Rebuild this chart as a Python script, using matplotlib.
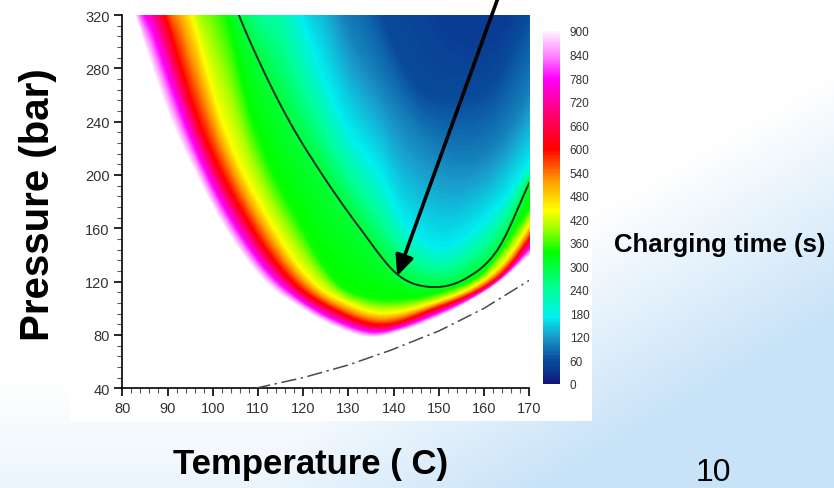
import numpy as np
import matplotlib
matplotlib.use("Agg")
import matplotlib.pyplot as plt
from matplotlib.colors import LinearSegmentedColormap, Normalize, to_rgb
from matplotlib.patches import Rectangle
import matplotlib.colorbar as mcolorbar

plt.rcParams["font.family"] = ["Liberation Sans", "DejaVu Sans"]

W, H = 834, 489

# ── contour curves (temperature C -> pressure bar) ───────────────────────────
# charging-time level carried by each curve, lowest pressure curve first
levels = [900, 600, 443, 341, 300, 169, 100, 60, 40]

edge900_T = [80.5, 82.8, 90.9, 96.4, 102.7, 111.5, 120, 127, 135, 141, 148, 156.5, 163.5, 170]
edge900_P = [345, 320, 240, 200, 160, 120, 99, 86, 78, 82, 90.5, 104.5, 120, 139.5]

red600_T = [86.5, 89.4, 96.8, 108.6, 117.4, 126, 137, 148, 162, 166, 170]
red600_P = [350, 320, 240, 160, 120, 100, 87, 98, 120, 133, 152]

yel443_T = [92.5, 95.3, 102, 113.4, 121.9, 130, 137, 148, 160, 165, 170]
yel443_P = [350, 320, 240, 160, 120, 103, 96, 103, 121, 137, 162]

grn341_T = [99.5, 102.7, 108.6, 119.6, 127, 135, 141, 148, 157, 160, 170]
grn341_P = [350, 320, 240, 160, 120, 107, 106, 109.5, 120, 127, 174.5]

blk300_T = [102.5, 105.8, 111, 117, 124.3, 132.6, 141, 148, 155.8, 163.1, 170]
blk300_P = [350, 320, 280, 240, 200, 160, 125, 116, 122, 144.5, 194.5]

cyn169_T = [115, 119.6, 129.2, 137.3, 142.5, 150.6, 158, 165, 170]
cyn169_P = [370, 320, 240, 200, 165, 146, 160, 185, 209.5]

blu100_T = [124, 129, 136, 143, 150, 156, 162, 168, 172]
blu100_P = [380, 320, 275, 240, 218, 212, 222, 250, 280]

blu60_T = [132, 137.3, 144.7, 150, 156, 162, 167, 172]
blu60_P = [380, 320, 268, 258, 258, 268, 300, 340]

nvy40_T = [142, 150, 157, 163, 168, 172]
nvy40_P = [400, 320, 300, 305, 340, 400]

curves = [(edge900_T, edge900_P), (red600_T, red600_P), (yel443_T, yel443_P),
          (grn341_T, grn341_P), (blk300_T, blk300_P), (cyn169_T, cyn169_P),
          (blu100_T, blu100_P), (blu60_T, blu60_P), (nvy40_T, nvy40_P)]

# dash-dot boundary line
bound_T = [109.4, 120, 130, 139.3, 150, 160, 170]
bound_P = [40, 48, 57.5, 68.5, 83, 100, 121]

colorbar_ticks = list(range(0, 901, 60))


def hermite(xs, ys, xq):
    """Smooth cubic curve through the read points."""
    xs = np.asarray(xs, float)
    ys = np.asarray(ys, float)
    d = np.diff(ys) / np.diff(xs)
    m = np.empty_like(ys)
    m[1:-1] = (d[:-1] + d[1:]) / 2
    m[0], m[-1] = d[0], d[-1]
    xq = np.clip(xq, xs[0], xs[-1])
    i = np.clip(np.searchsorted(xs, xq) - 1, 0, len(xs) - 2)
    h = xs[i + 1] - xs[i]
    t = (xq - xs[i]) / h
    h00 = 2 * t**3 - 3 * t**2 + 1
    h10 = t**3 - 2 * t**2 + t
    h01 = -2 * t**3 + 3 * t**2
    h11 = t**3 - t**2
    return h00 * ys[i] + h10 * h * m[i] + h01 * ys[i + 1] + h11 * h * m[i + 1]


# ── build the field between the read contour curves ─────────────────────────
T = np.linspace(80, 170, 451)
P = np.linspace(40, 320, 561)
curve_P = np.array([hermite(cT, cP, T) for cT, cP in curves])
field = np.empty((len(P), len(T)))
for j in range(len(T)):
    xp = np.maximum.accumulate(curve_P[:, j] + 1e-3 * np.arange(len(levels)))
    field[:, j] = np.interp(P, xp, levels, left=960, right=levels[-1])

cmap = LinearSegmentedColormap.from_list("tecplot", [
    (0 / 900, "#14147a"),
    (40 / 900, "#093e94"),
    (60 / 900, "#0a4c9c"),
    (120 / 900, "#1a9ccc"),
    (170 / 900, "#00f0f0"),
    (240 / 900, "#00ff9a"),
    (335 / 900, "#00ff00"),
    (400 / 900, "#a8ff00"),
    (443 / 900, "#ffff00"),
    (520 / 900, "#ff9900"),
    (600 / 900, "#ff0000"),
    (690 / 900, "#ff0070"),
    (780 / 900, "#ff00ff"),
    (840 / 900, "#ff88ff"),
    (900 / 900, "#fff2ff"),
])
cmap.set_over("white")
norm = Normalize(0, 900)

fig = plt.figure(figsize=(W / 100, H / 100), dpi=100)

# ── slide background ──────────────────────────────────────────────────────────
bg = fig.add_axes([0, 0, 1, 1])
xx, yy = np.meshgrid(np.linspace(0, 1, 300), np.linspace(0, 1, 200))
f = np.clip(np.maximum(2.0 * yy + 2.0 * xx - 2.3, 1.6 * yy - 1.25), 0, 1)
c0, c1 = np.array(to_rgb("#ffffff")), np.array(to_rgb("#c8e3f8"))
rgb = c0[None, None, :] * (1 - f[..., None]) + c1[None, None, :] * f[..., None]
bg.imshow(rgb, extent=[0, 1, 0, 1], aspect="auto", origin="upper")
bg.set_xlim(0, 1)
bg.set_ylim(0, 1)
bg.axis("off")
bg.add_patch(Rectangle((70 / W, 1 - 422 / H), (592 - 70) / W, 422 / H,
                       facecolor="white", edgecolor="none"))

# ── main plot ─────────────────────────────────────────────────────────────────
ax = fig.add_axes([122.3 / W, 1 - 389.3 / H, 407 / W, 373.3 / H])
ax.set_facecolor("white")
ax.imshow(field, extent=[80, 170, 40, 320], origin="lower", aspect="auto",
          cmap=cmap, norm=norm, interpolation="bilinear", zorder=1)
ax.contour(T, P, field, levels=[300], colors="#1e2e1e",
           linewidths=1.4, zorder=3)
ax.plot(bound_T, bound_P, color="#4a4a4a", lw=1.1,
        dashes=(10, 3, 1.5, 3), zorder=3)

ax.annotate("", xy=(140.8, 124.3), xytext=(163.1, 333),
            arrowprops=dict(arrowstyle="-|>,head_length=0.55,head_width=0.25",
                            lw=2.6, color="black", mutation_scale=22,
                            shrinkA=0, shrinkB=0, clip_on=False),
            annotation_clip=False, zorder=5)

ax.set_xlim(80, 170)
ax.set_ylim(40, 320)
ax.set_xticks(range(80, 171, 10))
ax.set_xticks(range(80, 171, 2), minor=True)
ax.set_yticks(range(40, 321, 40))
ax.set_yticks(range(40, 321, 8), minor=True)
for s in ("top", "right"):
    ax.spines[s].set_visible(False)
for s in ("left", "bottom"):
    ax.spines[s].set_linewidth(1.2)
ax.tick_params(which="major", direction="out", length=6, width=1.2,
               labelsize=10.5, labelcolor="#333333", pad=3)
ax.tick_params(which="minor", direction="out", length=3.5, width=0.8,
               color="#555555")

# ── colorbar ──────────────────────────────────────────────────────────────────
cax = fig.add_axes([543 / W, 1 - 385 / H, 17 / W, 353 / H])
cb = mcolorbar.ColorbarBase(cax, cmap=cmap, norm=norm, ticks=colorbar_ticks)
cb.outline.set_visible(False)
cax.tick_params(length=0, labelsize=8.5, labelcolor="#333333", pad=7)

# ── slide text ────────────────────────────────────────────────────────────────
fig.text(38 / W, 1 - 205 / H, "Pressure (bar)", rotation=90, fontsize=29,
         fontweight="bold", ha="center", va="center")
fig.text(311 / W, 1 - 465 / H, "Temperature ( C)", fontsize=25,
         fontweight="bold", ha="center", va="center")
fig.text(720 / W, 1 - 245 / H, "Charging time (s)", fontsize=18.5,
         fontweight="bold", ha="center", va="center")
fig.text(713 / W, 1 - 473 / H, "10", fontsize=23, ha="center", va="center")

fig.savefig("out.png", dpi=100)
